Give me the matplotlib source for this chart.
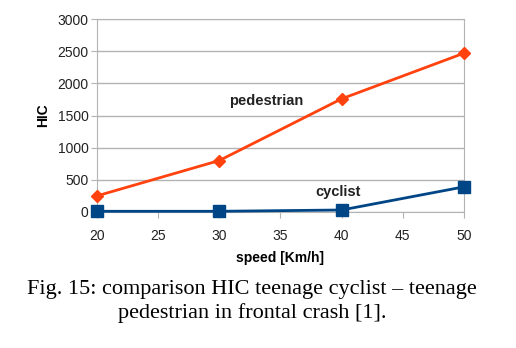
import matplotlib
matplotlib.use("Agg")
import matplotlib.pyplot as plt

speed = [20, 30, 40, 50]
hic_pedestrian = [250, 800, 1760, 2470]
hic_cyclist = [10, 10, 30, 390]

fig = plt.figure(figsize=(5.16, 3.48), dpi=100)
ax = fig.add_axes([0.188, 0.391, 0.711, 0.554])

ax.plot(speed, hic_pedestrian, color="#ff420e", lw=2.0, marker="D", ms=6.5, zorder=3, clip_on=False)
ax.plot(speed, hic_cyclist, color="#004586", lw=2.0, marker="s", ms=8, zorder=3, clip_on=False)

ax.set_xlim(20, 50)
ax.set_ylim(0, 3000)
ax.set_xticks(range(20, 51, 5))
ax.set_yticks(range(0, 3001, 500))
ax.yaxis.grid(True, color="#b3b3b3", lw=1)
ax.set_axisbelow(True)
for s in ax.spines.values():
    s.set_color("#b3b3b3")
ax.tick_params(colors="#b3b3b3", labelcolor="#222222", labelsize=10, length=4)
ax.tick_params(axis="x", pad=8)
ax.tick_params(axis="y", pad=2)
for lab in ax.get_xticklabels() + ax.get_yticklabels():
    lab.set_family("Liberation Sans")

ax.set_xlabel("speed [Km/h]", family="Liberation Sans", fontsize=10, fontweight="bold", labelpad=6)
ax.set_ylabel("HIC", family="Liberation Sans", fontsize=10, fontweight="bold", labelpad=5)

ax.text(33.8, 1725, "pedestrian", family="Liberation Sans", fontsize=10.5, fontweight="bold",
        ha="center", va="center", color="#222222")
ax.text(39.7, 315, "cyclist", family="Liberation Sans", fontsize=10.5, fontweight="bold",
        ha="center", va="center", color="#222222")

fig.text(0.488, 0.134, "Fig. 15: comparison HIC teenage cyclist \u2013 teenage\npedestrian in frontal crash [1].",
         family="Liberation Serif", fontsize=16, ha="center", va="center", linespacing=1.3)

fig.savefig("out.png", dpi=100)
